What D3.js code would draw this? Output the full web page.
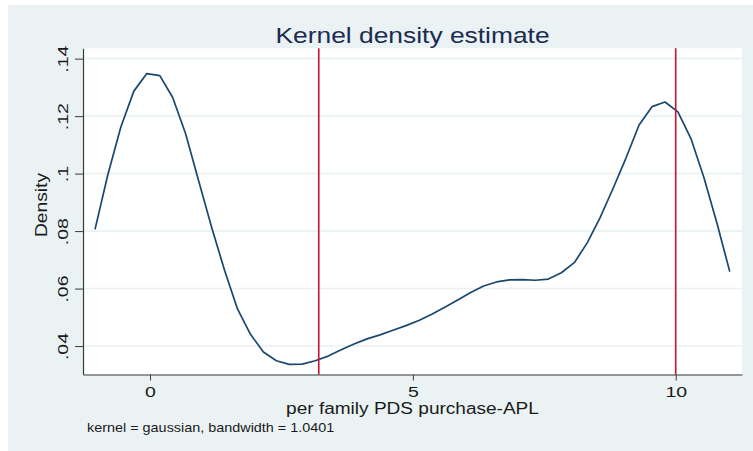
<!DOCTYPE html>
<html>
<head>
<meta charset="utf-8">
<script src="https://cdn.jsdelivr.net/npm/d3@7"></script>
<style>
  body { margin: 0; background: #ffffff; }
  svg { display: block; font-family: "Liberation Sans", Arial, sans-serif; }
</style>
</head>
<body>
<script>
// evaluation points of the kernel density (50 points, as Stata draws them)
const xs = [-1.046, -0.800, -0.553, -0.307, -0.060, 0.186, 0.432, 0.679, 0.925, 1.172,
            1.418, 1.664, 1.911, 2.157, 2.404, 2.650, 2.896, 3.143, 3.389, 3.636,
            3.882, 4.128, 4.375, 4.621, 4.868, 5.114, 5.360, 5.607, 5.853, 6.100,
            6.346, 6.592, 6.839, 7.085, 7.332, 7.578, 7.824, 8.071, 8.317, 8.564,
            8.810, 9.056, 9.303, 9.549, 9.796, 10.042, 10.288, 10.535, 10.781, 11.028];
const density = [0.0806, 0.0998, 0.1163, 0.1287, 0.1348, 0.1341, 0.1265, 0.1138, 0.0975, 0.0813,
                 0.0664, 0.0529, 0.0441, 0.0379, 0.0349, 0.0336, 0.0337, 0.0349, 0.0365, 0.0387,
                 0.0407, 0.0425, 0.0439, 0.0455, 0.0471, 0.0489, 0.0511, 0.0535, 0.0560, 0.0586,
                 0.0609, 0.0623, 0.0630, 0.0631, 0.0629, 0.0633, 0.0655, 0.0690, 0.0759, 0.0848,
                 0.0949, 0.1055, 0.1169, 0.1233, 0.1249, 0.1215, 0.1123, 0.0987, 0.0830, 0.0659];
const xLines = [3.21, 10];
const xTicks = [0, 5, 10];
const xTickLabels = ['0', '5', '10'];
const yTicks = [0.04, 0.06, 0.08, 0.1, 0.12, 0.14];
const yTickLabels = ['.04', '.06', '.08', '.1', '.12', '.14'];
const titleText = 'Kernel density estimate';
const xTitle = 'per family PDS purchase-APL';
const yTitle = 'Density';
const noteText = 'kernel = gaussian, bandwidth = 1.0401';

const w = 753, h = 451;
const plot = {left: 83, right: 742, top: 48.3, bottom: 374.5};

const svg = d3.select('body').append('svg')
  .attr('width', w)
  .attr('height', h);

// graph region
svg.append('rect')
  .attr('x', 8).attr('y', 5)
  .attr('width', w - 8).attr('height', h - 5)
  .attr('fill', '#eaf2f3');

svg.append('rect')
  .attr('x', plot.left).attr('y', plot.top)
  .attr('width', plot.right - plot.left).attr('height', plot.bottom - plot.top)
  .attr('fill', '#ffffff');

const xScale = d3.scaleLinear().domain([-1.2745, 11.261]).range([plot.left, plot.right]);
const yScale = d3.scaleLinear().domain([0.0301, 0.1436]).range([plot.bottom, plot.top]);

// gridlines
svg.append('g').selectAll('line')
  .data(yTicks)
  .enter().append('line')
  .attr('x1', plot.left).attr('x2', plot.right)
  .attr('y1', d => yScale(d)).attr('y2', d => yScale(d))
  .attr('stroke', '#eaf2f3')
  .attr('stroke-width', 1.6);

// density curve
const line = d3.line()
  .x((d, i) => xScale(xs[i]))
  .y(d => yScale(d));

svg.append('path')
  .datum(density)
  .attr('d', line)
  .attr('fill', 'none')
  .attr('stroke', '#1a476f')
  .attr('stroke-width', 1.7)
  .attr('stroke-linejoin', 'round');

// xline markers
svg.append('g').selectAll('line')
  .data(xLines)
  .enter().append('line')
  .attr('x1', d => xScale(d)).attr('x2', d => xScale(d))
  .attr('y1', plot.top).attr('y2', plot.bottom)
  .attr('stroke', '#cc1036')
  .attr('stroke-width', 1.6);

// axes
const xAxis = d3.axisBottom(xScale)
  .tickValues(xTicks)
  .tickFormat((d, i) => xTickLabels[i])
  .tickSizeInner(6)
  .tickSizeOuter(0);

const yAxis = d3.axisLeft(yScale)
  .tickValues(yTicks)
  .tickFormat((d, i) => yTickLabels[i])
  .tickSizeInner(8)
  .tickSizeOuter(0);

const gx = svg.append('g')
  .attr('transform', 'translate(0,' + plot.bottom + ')')
  .call(xAxis);

const gy = svg.append('g')
  .attr('transform', 'translate(' + plot.left + ',0)')
  .call(yAxis);

[gx, gy].forEach(g => {
  g.attr('font-family', null).attr('font-size', null);
  g.select('.domain').attr('stroke', '#3a3a3a').attr('stroke-width', 1.2);
  g.selectAll('.tick line').attr('stroke', '#3a3a3a').attr('stroke-width', 1);
  g.selectAll('.tick text')
    .attr('fill', '#1a1a1a')
    .style('font-size', '15px');
});

gx.selectAll('.tick text')
  .attr('y', null).attr('dy', null)
  .attr('transform', 'translate(0,22.5) scale(1.3,1)');

gy.selectAll('.tick text')
  .attr('x', null).attr('dy', null)
  .attr('text-anchor', 'middle')
  .attr('transform', 'translate(-15,0) rotate(-90) scale(1.3,1)');

// texts (the original font is drawn wider than Arial, hence the x stretch)
function label(txt, x, y, size, sx, rot, color) {
  return svg.append('text')
    .attr('transform', 'translate(' + x + ',' + y + ')' + (rot ? ' rotate(' + rot + ')' : '') + ' scale(' + sx + ',1)')
    .attr('text-anchor', 'middle')
    .style('font-size', size + 'px')
    .attr('fill', color)
    .text(txt);
}

label(titleText, (plot.left + plot.right) / 2, 42.7, 22, 1.2, 0, '#1c2b50');
label(xTitle, (plot.left + plot.right) / 2, 414, 16, 1.19, 0, '#1a1a1a');
label(yTitle, 46.5, 205, 16, 1.2, -90, '#1a1a1a');
label(noteText, 87, 432, 12, 1.2, 0, '#1a1a1a').attr('text-anchor', 'start');
</script>
</body>
</html>
